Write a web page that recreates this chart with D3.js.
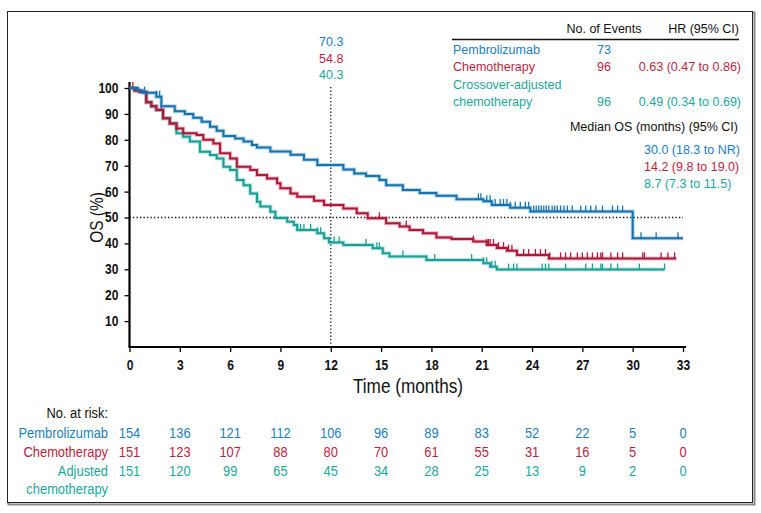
<!DOCTYPE html>
<html>
<head>
<meta charset="utf-8">
<script src="https://cdn.jsdelivr.net/npm/d3@7"></script>
<style>
  html, body { margin: 0; padding: 0; background: #fff; }
  svg { display: block; }
  .narrow { font-family: "Liberation Sans", Arial, Helvetica, sans-serif; }
  .leg { font-family: "Liberation Sans", Arial, Helvetica, sans-serif; }
</style>
</head>
<body>
<div id="chart"></div>
<script>
// series: [months, OS %] step points
const pembro = [[0,100],[0.5,99],[0.8,98.2],[1.6,96.6],[1.9,93],[2.7,91],[3.3,90],[3.8,88.5],[4.3,87],[4.8,85],
  [5.2,83.5],[5.6,81.5],[6.3,80.5],[6.8,79.3],[7.3,78],[7.6,77],[8.4,75.5],[9.6,74.2],[10.4,72.3],[11.2,70.3],
  [12.75,68.5],[13.4,67],[14.1,66],[14.9,64.5],[15.3,62.5],[16.3,60.6],[17.3,59.5],[18.3,58.4],[19.5,57],
  [21.1,56.3],[21.6,54.8],[22.7,53.8],[23.9,52.3],[30.0,42],[33.0,42]];
const chemo = [[0,100],[0.3,99],[0.6,98.5],[1.0,94.5],[1.3,93],[1.6,91.5],[2.0,88.3],[2.4,86.3],[2.8,84.4],
  [3.2,82.5],[4.0,81.9],[4.4,80],[5.0,78.6],[5.4,74.8],[6.0,72.8],[6.4,69.6],[7.2,68.3],[7.6,66.4],[8.2,65.1],
  [8.8,63.2],[9.0,61.3],[9.6,59.3],[10.0,58],[11.0,56.5],[11.6,54.8],[12.75,53.5],[13.55,51.6],[14.2,49.7],
  [15.3,47.8],[16.1,46.5],[16.7,45.2],[17.5,43.9],[18.3,42.3],[19.2,41.7],[20.5,40.7],[21.3,39.4],[21.9,38.2],
  [22.5,37.2],[23.1,35.5],[25.0,34.2],[32.6,34.2]];
const adjusted = [[0,100],[0.3,99],[0.6,98.5],[1.0,94.5],[1.3,93],[1.6,91.5],[2.0,88.3],[2.4,86.3],[2.8,82.5],
  [3.2,81.2],[3.6,79.3],[4.2,75.4],[4.8,74.1],[5.2,72.8],[5.6,69.6],[6.0,68.3],[6.4,64.5],[6.8,62.5],[7.2,59.3],
  [7.6,56.1],[7.8,54.2],[8.4,52.2],[8.7,49.8],[9.4,48.4],[9.8,47.1],[10.0,45.2],[11.2,43.9],[11.6,42],[11.9,40.3],
  [12.75,39.4],[14.5,38.1],[15.1,36.2],[15.5,34.9],[17.7,33.6],[21.1,32.3],[21.5,31],[21.9,29.9],[31.9,29.9]];

// censoring times (months)
const pembroCens = [0.9,1.6,1.8,20.8,20.95,21.3,21.5,21.8,22.1,22.3,22.5,22.7,23.0,23.3,23.6,23.8,
  24.1,24.25,24.4,24.55,24.7,24.85,25.0,25.2,25.35,25.5,25.7,25.9,26.1,26.4,26.9,27.2,27.5,27.8,28.2,
  28.8,29.1,29.4,30.5,31.4,32.7];
const chemoCens = [0.2,1.9,8.8,14.9,16.5,20.5,21.3,21.4,21.5,21.7,22.0,22.3,22.6,22.8,23.5,23.8,24.2,24.5,
  24.8,25.05,25.7,26.0,26.3,26.7,27.0,27.3,27.6,27.9,28.1,28.2,28.7,29.1,29.4,30.6,30.7,31.7,32.1,32.5];
const adjustedCens = [7.2,8.4,10.0,10.2,10.4,10.8,11.2,11.4,12.2,12.5,14.1,14.75,14.9,16.3,18.2,20.4,21.1,
  21.3,21.6,21.8,22.6,22.9,23.1,24.6,24.8,25.0,26.0,27.2,27.6,28.1,28.2,28.7,29.1,30.4,31.9];

const xTicks = [0,3,6,9,12,15,18,21,24,27,30,33];
const yTicks = [10,20,30,40,50,60,70,80,90,100];
const at12 = ["70.3","54.8","40.3"];

const riskLabels = ["Pembrolizumab","Chemotherapy","Adjusted"];
const riskPembro = [154,136,121,112,106,96,89,83,52,22,5,0];
const riskChemo = [151,123,107,88,80,70,61,55,31,16,5,0];
const riskAdjusted = [151,120,99,65,45,34,28,25,13,9,2,0];

const legNames = ["Pembrolizumab","Chemotherapy","Crossover-adjusted"];
const legEvents = ["73","96","96"];
const legHR = ["","0.63 (0.47 to 0.86)","0.49 (0.34 to 0.69)"];
const legMedian = ["30.0 (18.3 to NR)","14.2 (9.8 to 19.0)","8.7 (7.3 to 11.5)"];

const colors = ["#1573b0","#b0183a","#16a096"];
const textColors = ["#2280c0","#be1e3e","#1ba89c"];

const W = 761, H = 513;
const SX = 0.86; // horizontal squeeze for the condensed-looking labels
const svg = d3.select("#chart").append("svg").attr("width", W).attr("height", H);

// condensed text helper
function ntext(g, x, y, anchor, txt, size, fill, sx = SX) {
  return g.append("text").attr("class", "narrow")
    .attr("transform", `translate(${x},${y}) scale(${sx},1)`)
    .attr("text-anchor", anchor).style("font-size", size + "px").attr("fill", fill).text(txt);
}

// outer frame
svg.append("rect").attr("x", 8.5).attr("y", 12.5).attr("width", 746).attr("height", 492)
  .attr("fill", "none").attr("stroke", "#888").attr("stroke-width", 2);
svg.append("rect").attr("x", 7.5).attr("y", 11.5).attr("width", 745).attr("height", 491)
  .attr("fill", "#fff").attr("stroke", "#222").attr("stroke-width", 1);

const x = d3.scaleLinear().domain([0, 33]).range([129.5, 683]);
const y = d3.scaleLinear().domain([0, 100]).range([347, 88]);

// reference lines
svg.append("line").attr("x1", x(0)).attr("x2", x(33)).attr("y1", y(50)).attr("y2", y(50))
  .attr("stroke", "#111").attr("stroke-width", 1.3).attr("stroke-dasharray", "1.3,2.2");
svg.append("line").attr("x1", x(12)).attr("x2", x(12)).attr("y1", y(100) - 1).attr("y2", y(0))
  .attr("stroke", "#111").attr("stroke-width", 1.3).attr("stroke-dasharray", "1.3,2.2");

// axes
const gx = svg.append("g").attr("class", "narrow").attr("transform", `translate(0,${y(0)})`)
  .call(d3.axisBottom(x).tickValues(xTicks).tickSize(5).tickPadding(8));
const gy = svg.append("g").attr("class", "narrow").attr("transform", `translate(${x(0)},0)`)
  .call(d3.axisLeft(y).tickValues(yTicks).tickSize(5).tickPadding(6));
gx.select(".domain").attr("d", `M${x(0) - 1},0H${x(33) + 3}`).attr("stroke-width", 2.2);
gy.select(".domain").attr("d", `M0,${y(0)}V${y(100) - 6}`).attr("stroke-width", 2.2);
[gx, gy].forEach(g => {
  g.selectAll(".tick line").attr("stroke-width", 1.3);
  g.selectAll(".tick text").attr("fill", "#111").style("font-size", "14px").style("font-weight", "bold")
    .attr("font-family", null).attr("transform", `scale(${SX},1)`);
});
gy.selectAll(".tick text").attr("x", -11 / SX);

ntext(svg, 408, 393, "middle", "Time (months)", 20, "#111");
svg.append("text").attr("class", "narrow")
  .attr("transform", `translate(103,${y(50)}) rotate(-90) scale(${SX},1)`)
  .attr("text-anchor", "middle").style("font-size", "18px").attr("fill", "#111").text("OS (%)");

// survival curves
const line = d3.line().x(d => x(d[0])).y(d => y(d[1])).curve(d3.curveStepAfter);
const stepVal = (data, t) => {
  const i = d3.bisector(d => d[0]).right(data, t) - 1;
  return data[Math.max(0, i)][1];
};
const series = [
  { data: adjusted, cens: adjustedCens, c: colors[2] },
  { data: chemo, cens: chemoCens, c: colors[1] },
  { data: pembro, cens: pembroCens, c: colors[0] }
];
series.forEach(s => {
  svg.append("path").attr("d", line(s.data)).attr("fill", "none")
    .attr("stroke", s.c).attr("stroke-opacity", 0.3).attr("stroke-width", 4);
  svg.append("path").attr("d", line(s.data)).attr("fill", "none")
    .attr("stroke", s.c).attr("stroke-width", 2);
  svg.append("g").selectAll("line").data(s.cens).join("line")
    .attr("x1", d => x(d)).attr("x2", d => x(d))
    .attr("y1", d => y(stepVal(s.data, d))).attr("y2", d => y(stepVal(s.data, d)) - 6)
    .attr("stroke", s.c).attr("stroke-width", 1.3);
});

// values at 12 months
svg.append("g").selectAll("text").data(at12).join("text").attr("class", "leg")
  .attr("x", x(12) + 0.5).attr("y", (d, i) => 46 + i * 16.5).attr("text-anchor", "middle")
  .style("font-size", "12.5px").attr("fill", (d, i) => textColors[i]).text(d => d);

// legend table
const leg = svg.append("g").attr("class", "leg").style("font-size", "12.5px");
leg.append("text").attr("x", 604).attr("y", 33).attr("text-anchor", "middle").attr("fill", "#111").text("No. of Events");
leg.append("text").attr("x", 739).attr("y", 33).attr("text-anchor", "end").attr("fill", "#111").text("HR (95% CI)");
leg.append("line").attr("x1", 452).attr("x2", 739).attr("y1", 39.5).attr("y2", 39.5).attr("stroke", "#111").attr("stroke-width", 1.5);
const legY = [54, 71, 106];
legNames.forEach((n, i) => {
  leg.append("text").attr("x", 453).attr("y", i === 2 ? 89 : legY[i]).attr("fill", textColors[i]).text(n);
  leg.append("text").attr("x", 604).attr("y", legY[i]).attr("text-anchor", "middle").attr("fill", textColors[i]).text(legEvents[i]);
  leg.append("text").attr("x", 741).attr("y", legY[i]).attr("text-anchor", "end").attr("fill", textColors[i]).text(legHR[i]);
});
leg.append("text").attr("x", 453).attr("y", 106).attr("fill", textColors[2]).text("chemotherapy");
leg.append("text").attr("x", 738).attr("y", 131).attr("text-anchor", "end").attr("fill", "#111").text("Median OS (months) (95% CI)");
legMedian.forEach((m, i) => {
  leg.append("text").attr("x", 644).attr("y", 154 + i * 17).attr("fill", textColors[i]).text(m);
});

// number at risk
const risk = svg.append("g");
ntext(risk, 108, 418, "end", "No. at risk:", 15, "#111");
const riskRows = [riskPembro, riskChemo, riskAdjusted];
const rowY = [438, 457, 476];
riskRows.forEach((row, i) => {
  ntext(risk, 108, rowY[i], "end", riskLabels[i], 15, textColors[i]);
  row.forEach((d, j) => ntext(risk, x(xTicks[j]), rowY[i], "middle", d, 15, textColors[i]));
});
ntext(risk, 108, 494, "end", "chemotherapy", 15, textColors[2]);
</script>
</body>
</html>
